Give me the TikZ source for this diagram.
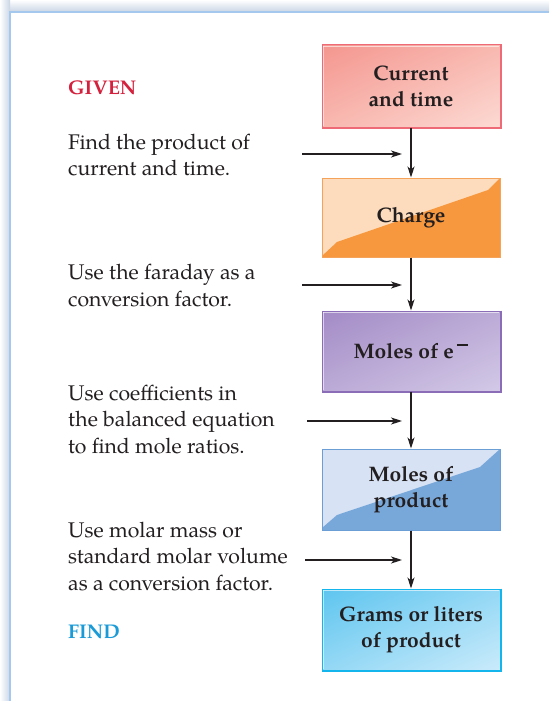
\documentclass[tikz,border=0pt]{standalone}
\usepackage{fontspec}
\setmainfont{TeX Gyre Pagella}
\usetikzlibrary{arrows.meta,backgrounds,shadings}
\definecolor{givenc}{HTML}{D4213D}
\definecolor{findc}{HTML}{1A9BD7}
\definecolor{txt}{HTML}{231F20}
\definecolor{panelb}{HTML}{A4C8EE}
\definecolor{shad}{HTML}{C9D5E5}
\definecolor{pinkA}{HTML}{F4968F}
\definecolor{pinkB}{HTML}{FCDAD3}
\definecolor{pinkM}{HTML}{F8B8B0}
\definecolor{pinkE}{HTML}{EE6A77}
\definecolor{orL}{HTML}{FDDCBD}
\definecolor{orD}{HTML}{F7983F}
\definecolor{orE}{HTML}{F5A35A}
\definecolor{puA}{HTML}{A38BC6}
\definecolor{puB}{HTML}{D3C9E7}
\definecolor{puM}{HTML}{BBAAD6}
\definecolor{puE}{HTML}{8A6DB6}
\definecolor{blL}{HTML}{D7E2F4}
\definecolor{blD}{HTML}{78A8DA}
\definecolor{blE}{HTML}{6C9ED6}
\definecolor{cyA}{HTML}{5EC5EF}
\definecolor{cyB}{HTML}{CAEBFB}
\definecolor{cyM}{HTML}{94D8F5}
\definecolor{cyE}{HTML}{14B5EC}
\tikzset{
  x=1pt,y=-1pt,
  boxnode/.style={minimum width=178pt,minimum height=80pt,align=center,
    font=\fontsize{21}{26}\selectfont\bfseries,text=txt},
  lefttext/.style={anchor=west,align=left,inner sep=0pt,font=\fontsize{21.2}{26.5}\selectfont,text=txt},
  headtext/.style={anchor=west,inner sep=0pt,font=\fontsize{19.8}{22}\selectfont\bfseries},
  conn/.style={line width=1.2pt,-{Stealth[length=11pt,width=7pt,inset=3pt]},draw=txt},
}
\begin{document}
\begin{tikzpicture}
\useasboundingbox (0,0) rectangle (549,701);
% panel shadow and panel
\shade[top color=white,bottom color=shad] (0,0) rectangle (549,12);
\shade[left color=white,right color=shad] (0,0) rectangle (10,701);
\fill[white] (10,12) rectangle (549,701);
\draw[panelb,line width=1.5pt] (10,701) -- (10,12) -- (549,12);

% box fills
\shade[upper left=pinkA,lower right=pinkB,upper right=pinkM,lower left=pinkM] (322,45) rectangle (500,127);
\fill[orL] (322,178) rectangle (500,257);
\fill[orD] (322,256) -- (337,242) -- (488,190) -- (500,178) -- (500,257) -- (322,257) -- cycle;
\shade[upper left=puA,lower right=puB,upper right=puM,lower left=puM] (322,311) rectangle (500,391);
\fill[blL] (322,449) rectangle (500,530);
\fill[blD] (322,528) -- (337,515) -- (480,467) -- (500,449) -- (500,530) -- (322,530) -- cycle;
\shade[upper left=cyA,lower right=cyB,upper right=cyM,lower left=cyM] (322,589) rectangle (500,670);

% nodes
\node[boxnode,draw=pinkE,line width=1pt,minimum height=82pt] (b1) at (411,86) {Current\\and time};
\node[boxnode,draw=orE,line width=1pt,minimum height=79pt] (b2) at (411,217.5) {Charge};
\node[boxnode,draw=puE,line width=1pt] (b3) at (411,351) {Moles of e\,\raisebox{1.3ex}{\rule{11pt}{1.3pt}}};
\node[boxnode,draw=blE,line width=1pt,minimum height=81pt] (b4) at (411,489.5) {Moles of\\product};
\node[boxnode,draw=cyE,line width=1pt,minimum height=81pt] (b5) at (411,629.5) {Grams or liters\\of product};

% shadowed edges
\draw[pinkE,line width=2pt] (b1.north east) -- (b1.south east) -- (b1.south west);
\draw[puE,line width=2pt] (b3.north east) -- (b3.south east) -- (b3.south west);
\draw[cyE,line width=2pt] (b5.north east) -- (b5.south east) -- (b5.south west);
\draw[white,opacity=0.6,line width=0.6pt] ([shift={(1.5,1.5)}]b1.north west) -- ([shift={(-1.5,1.5)}]b1.north east);
\draw[white,opacity=0.6,line width=0.6pt] ([shift={(1.5,1.5)}]b1.north west) -- ([shift={(1.5,-1.5)}]b1.south west);
\draw[white,opacity=0.6,line width=0.6pt] ([shift={(1.5,1.5)}]b3.north west) -- ([shift={(-1.5,1.5)}]b3.north east);
\draw[white,opacity=0.6,line width=0.6pt] ([shift={(1.5,1.5)}]b3.north west) -- ([shift={(1.5,-1.5)}]b3.south west);
\draw[white,opacity=0.6,line width=0.6pt] ([shift={(1.5,1.5)}]b5.north west) -- ([shift={(-1.5,1.5)}]b5.north east);
\draw[white,opacity=0.6,line width=0.6pt] ([shift={(1.5,1.5)}]b5.north west) -- ([shift={(1.5,-1.5)}]b5.south west);

% left texts
\node[headtext,text=givenc] (given) at (68,88) {GIVEN};
\node[lefttext] (t1) at (68,155) {Find the product of\\current and time.};
\node[lefttext] (t2) at (68,285.5) {Use the faraday as a\\conversion factor.};
\node[lefttext] (t3) at (68,419) {Use coefficients in\\the balanced equation\\to find mole ratios.};
\node[lefttext] (t4) at (68,556.5) {Use molar mass or\\standard molar volume\\as a conversion factor.};
\node[headtext,text=findc] (find) at (68,632) {FIND};

% connectors
\draw[conn] (b1) -- (b2);
\draw[conn] (b2) -- (b3);
\draw[conn] (b3) -- (b4);
\draw[conn] (b4) -- (b5);
\coordinate (h1s) at (302,154);
\coordinate (h1e) at (402,154);
\coordinate (h2s) at (302,285);
\coordinate (h2e) at (402,285);
\coordinate (h3s) at (307,421);
\coordinate (h3e) at (402,421);
\coordinate (h4s) at (305,560);
\coordinate (h4e) at (402,560);
\draw[conn] (h1s) -- (h1e);
\draw[conn] (h2s) -- (h2e);
\draw[conn] (h3s) -- (h3e);
\draw[conn] (h4s) -- (h4e);
\end{tikzpicture}
\end{document}
